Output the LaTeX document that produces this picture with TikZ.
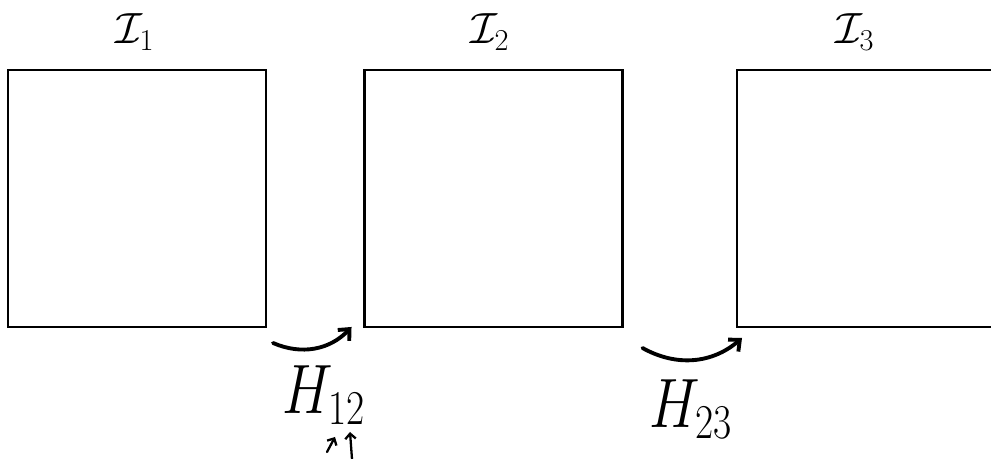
\documentclass[tikz,border=0pt]{standalone}
\usepackage{amsmath,amssymb}
\usepackage{graphicx}
\usetikzlibrary{arrows.meta}

\begin{document}
\begin{tikzpicture}[
    >={Straight Barb[length=5pt,width=9pt]},
    x=0.02cm,
    y=0.02cm,
    frame/.style={draw=black, line width=1.2pt, minimum width=5.16cm, minimum height=5.14cm, inner sep=0pt, outer sep=0pt},
    hop/.style={->, line width=2.2pt, line cap=round},
    pointer/.style={->, line width=1.3pt, line cap=round, >={Straight Barb[length=3pt,width=6pt]}}
]

% 1. Canvas (clip cuts the third frame on the right)
\useasboundingbox (0, 0) rectangle (991, 459);
\clip (0, 0) rectangle (991, 459);

% 2. Image frames
\node[frame] (I1) at (137, 260.5) {};
\node[frame] (I2) at (493.5, 260.5) {};
\node[frame] (I3) at (866, 260.5) {};

% 3. Frame titles
\node[font=\fontsize{24.88pt}{27pt}\selectfont] (t1) at (135, 427) {$\mathcal{I}_{\scriptscriptstyle 1}$};
\node[font=\fontsize{24.88pt}{27pt}\selectfont] (t2) at (490, 427) {$\mathcal{I}_{\scriptscriptstyle 2}$};
\node[font=\fontsize{24.88pt}{27pt}\selectfont] (t3) at (855, 427) {$\mathcal{I}_{\scriptscriptstyle 3}$};

% 4. Homography arrows between neighbouring frames
\draw[hop] ([shift={(7,-16)}]I1.south east) to[bend right=35] ([shift={(-13,0)}]I2.south west);
\draw[hop] ([shift={(20,-21)}]I2.south east) to[bend right=35] ([shift={(5,-11)}]I3.south west);

% 5. Homography labels
\node[font=\fontsize{24.88pt}{27pt}\selectfont] (H12) at (324, 64) {\scalebox{1.3}[1.6]{$H_{\scriptscriptstyle 12}$}};
\node[font=\fontsize{24.88pt}{27pt}\selectfont] (H23) at (691, 50) {\scalebox{1.3}[1.6]{$H_{\scriptscriptstyle 23}$}};

% 6. Small pointers under the indices of H12
\coordinate (p1a) at (327, 7);
\coordinate (p1b) at (335, 22);
\coordinate (p2a) at (352, 0);
\coordinate (p2b) at (350, 27);
\draw[pointer] (p1a) -- (p1b);
\draw[pointer] (p2a) -- (p2b);

\end{tikzpicture}
\end{document}
